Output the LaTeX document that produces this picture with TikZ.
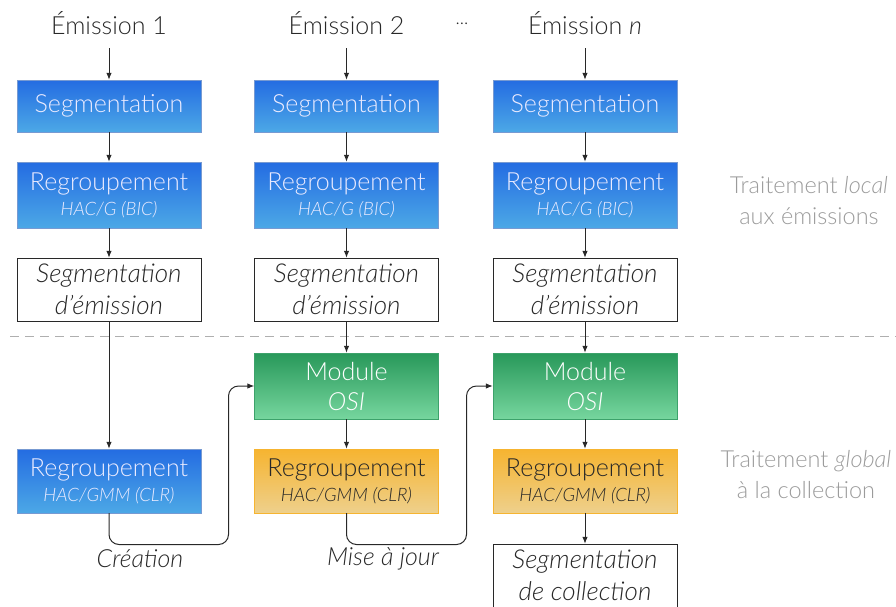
\documentclass[tikz,border=0pt]{standalone}
\usepackage{fontspec}
\setmainfont{Lato}[UprightFont=* Light,ItalicFont=* Light Italic]
\usetikzlibrary{arrows.meta}

\definecolor{bleuhaut}{RGB}{36,108,226}
\definecolor{bleubas}{RGB}{76,168,230}
\definecolor{verthaut}{RGB}{40,152,90}
\definecolor{vertbas}{RGB}{118,214,158}
\definecolor{orhaut}{RGB}{246,180,48}
\definecolor{orbas}{RGB}{238,208,140}
\definecolor{texte}{RGB}{40,40,40}
\definecolor{gris}{RGB}{155,155,155}
\newcommand{\sous}{\fontsize{18.5}{20}\selectfont\itshape}

\begin{document}
\begin{tikzpicture} [x=1pt,y=-1pt,
	boite/.style={minimum width=184pt,inner sep=0pt,align=center,font=\fontsize{25}{30}\selectfont},
	bleu/.style={boite,top color=bleuhaut,bottom color=bleubas,draw=bleuhaut!80!black!60,text=white!92!blue},
	vert/.style={boite,top color=verthaut,bottom color=vertbas,draw=verthaut!90!white,text=white},
	orange/.style={boite,top color=orhaut,bottom color=orbas,draw=orhaut,text=texte},
	blanc/.style={boite,draw=texte,fill=white,text=texte,font=\fontsize{26}{32}\selectfont\itshape},
	fleche/.style={draw=texte,line width=1pt,-{Latex[length=7pt,width=5.5pt]}}]
			\useasboundingbox (0,0) rectangle (896,606);
			
			% traitement local
			\foreach \x/\i/\t in {109/1/1,346.5/2/2,585/3/\textit{n}} {
				\node[text=texte,font=\fontsize{25}{28}\selectfont] (em\i) at (\x,23) {Émission \t};
				\node[bleu,minimum height=52pt] (seg\i) at (\x,106) {Segmentation};
				\node[bleu,minimum height=66pt] (reg\i) at (\x,195) {Regroupement\\[-5pt]{\sous HAC/G (BIC)}};
				\node[blanc,minimum height=63pt] (segem\i) at (\x,289.5) {Segmentation\\d'émission};
				\draw[fleche] (em\i.south) ++(0,10) coordinate (dep\i) -- (seg\i);
				\draw[fleche] (seg\i) -- (reg\i);
				\draw[fleche] (reg\i) -- (segem\i);
			}
			\node[text=texte,font=\fontsize{18}{20}\selectfont] (pts) at (462,24) {...};
			
			\draw[gris!80,dashed,dash pattern=on 9pt off 6pt,thick] (10,336) coordinate (sepg) -- (896,336) coordinate (sepd);
			
			% traitement global
			\node[bleu,minimum height=64pt] (glob1) at (109,481) {Regroupement\\[-5pt]{\sous HAC/GMM (CLR)}};
			\node[vert,minimum height=66pt] (mod2) at (346.5,386) {Module\\\textit{OSI}};
			\node[vert,minimum height=66pt] (mod3) at (585,386) {Module\\\textit{OSI}};
			\node[orange,minimum height=64pt] (glob2) at (346.5,481) {Regroupement\\[-5pt]{\sous HAC/GMM (CLR)}};
			\node[orange,minimum height=64pt] (glob3) at (585,481) {Regroupement\\[-5pt]{\sous HAC/GMM (CLR)}};
			\node[blanc,minimum height=63pt] (segcol) at (585,575.5) {Segmentation\\de collection};
			
			\draw[fleche] (segem1) -- (glob1);
			\draw[fleche] (segem2) -- (mod2);
			\draw[fleche] (segem3) -- (mod3);
			\draw[fleche] (mod2) -- (glob2);
			\draw[fleche] (mod3) -- (glob3);
			\draw[fleche] (glob3) -- (segcol);
			
			\coordinate (coin1) at (228.5,544.5);
			\coordinate (coin2) at (466.5,544.5);
			\draw[fleche,rounded corners=10pt] (glob1.south) |- (coin1) |- (mod2.west);
			\draw[fleche,rounded corners=10pt] (glob2.south) |- (coin2) |- (mod3.west);
			\node[text=texte,font=\fontsize{25}{28}\selectfont\itshape] (crea) at (140,559) {Création};
			\node[text=texte,font=\fontsize{25}{28}\selectfont\itshape] (maj) at (383,559) {Mise à jour};
			
			\node[text=gris,align=center,font=\fontsize{23.5}{31}\selectfont] (loc) at (809,201) {Traitement \textit{local}\\aux émissions};
			\node[text=gris,align=center,font=\fontsize{23.5}{31}\selectfont] (glo) at (806,475) {Traitement \textit{global}\\à la collection};
			\end{tikzpicture}
\end{document}
